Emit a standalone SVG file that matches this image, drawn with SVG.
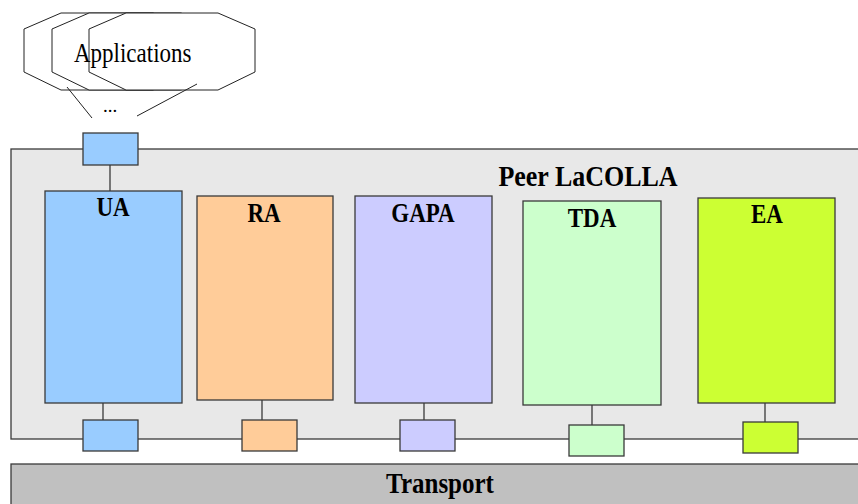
<svg xmlns="http://www.w3.org/2000/svg" width="858" height="504" viewBox="0 0 858 504">
<style>
.s{stroke:#3a3a3a;stroke-width:1.3}
.t{font-family:"Liberation Serif","Times New Roman",serif;fill:#000}
.b{font-weight:bold;text-anchor:middle}
.oct{fill:#fff;stroke:#222;stroke-width:1}
</style>
<defs>
<polygon id="oct" points="0,16 37,0 129,0 166,16 166,59 129,77 37,77 0,59"/>
</defs>
<rect width="858" height="504" fill="#fff"/>
<g id="applications">
<use href="#oct" x="24" y="13" class="oct"/>
<use href="#oct" x="52" y="13" class="oct"/>
<use href="#oct" x="89" y="13" class="oct"/>
<text class="t" transform="translate(74,62) scale(1,1.2)" font-size="23">Applications</text>
<text class="t" x="110" y="112" font-size="19" text-anchor="middle">...</text>
</g>
<g id="transport">
<rect x="11" y="464" width="860" height="50" fill="#c0c0c0" class="s"/>
<text class="t b" transform="translate(440,493) scale(1,1.15)" font-size="25">Transport</text>
</g>
<g id="peer">
<rect x="11" y="149" width="860" height="290" fill="#e8e8e8" class="s"/>
<text class="t b" transform="translate(588,186) scale(1,1.16)" font-size="26">Peer LaCOLLA</text>
</g>
<g id="connectors" class="s" fill="none">
<line x1="67" y1="87" x2="92" y2="118" stroke="#222" stroke-width="1"/>
<line x1="197" y1="84" x2="137" y2="116" stroke="#222" stroke-width="1"/>
<line x1="110" y1="165" x2="110" y2="191"/>
<line x1="103" y1="403" x2="103" y2="420"/>
<line x1="262" y1="400" x2="262" y2="420"/>
<line x1="424" y1="403" x2="424" y2="420"/>
<line x1="592" y1="405" x2="592" y2="425"/>
<line x1="765" y1="403" x2="765" y2="422"/>
</g>
<g id="ua">
<rect x="45" y="191" width="137" height="212" fill="#99ccff" class="s"/>
<text class="t b" transform="translate(113,216) scale(1,1.15)" font-size="23">UA</text>
</g>
<g id="ua-top-port"><rect x="83" y="133" width="55" height="32" fill="#99ccff" class="s"/></g>
<g id="ua-port"><rect x="83" y="420" width="55" height="31" fill="#99ccff" class="s"/></g>
<g id="ra">
<rect x="197" y="196" width="136" height="204" fill="#ffcc99" class="s"/>
<text class="t b" transform="translate(264,222) scale(1,1.15)" font-size="23">RA</text>
</g>
<g id="ra-port"><rect x="242" y="420" width="55" height="31" fill="#ffcc99" class="s"/></g>
<g id="gapa">
<rect x="355" y="196" width="137" height="207" fill="#ccccff" class="s"/>
<text class="t b" transform="translate(423,222) scale(1,1.15)" font-size="23">GAPA</text>
</g>
<g id="gapa-port"><rect x="400" y="420" width="55" height="31" fill="#ccccff" class="s"/></g>
<g id="tda">
<rect x="523" y="201" width="138" height="204" fill="#ccffcc" class="s"/>
<text class="t b" transform="translate(592,227) scale(1,1.15)" font-size="23">TDA</text>
</g>
<g id="tda-port"><rect x="569" y="425" width="55" height="31" fill="#ccffcc" class="s"/></g>
<g id="ea">
<rect x="698" y="198" width="137" height="205" fill="#ccff33" class="s"/>
<text class="t b" transform="translate(767,223) scale(1,1.15)" font-size="23">EA</text>
</g>
<g id="ea-port"><rect x="743" y="422" width="55" height="31" fill="#ccff33" class="s"/></g>
</svg>
